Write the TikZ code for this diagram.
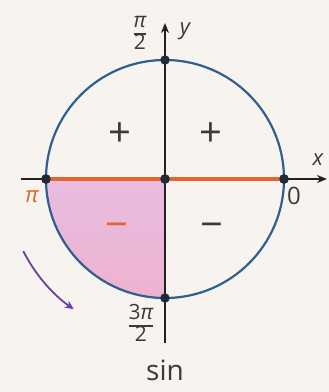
\documentclass[tikz,border=0pt]{standalone}
\usepackage{fontspec}
\setmainfont{Open Sans}
\usetikzlibrary{arrows.meta}
\definecolor{bg}{HTML}{F7F4EF}
\definecolor{circ}{HTML}{2F5F90}
\definecolor{axis}{HTML}{222222}
\definecolor{org}{HTML}{E4632E}
\definecolor{pinkf}{HTML}{EEB2D0}
\definecolor{pinkl}{HTML}{E9BCE0}
\definecolor{dotc}{HTML}{1E2B38}
\definecolor{txt}{HTML}{3A3A3A}
\definecolor{purp}{HTML}{6B3FA6}
\tikzset{
  axisline/.style={draw=axis, line width=2.2pt, -{Stealth[length=10pt,width=8pt]}},
  pt/.style={circle, fill=dotc, inner sep=0pt, minimum size=9.5pt},
  lbl/.style={text=txt, inner sep=0pt, font=\fontsize{22}{24}\selectfont},
  sgn/.style={text=txt, inner sep=0pt, font=\fontsize{40}{42}\selectfont},
  frc/.style={text=txt, inner sep=0pt},
}
\newcommand{\myfrac}[2]{{\fontsize{21}{21}\selectfont\setlength{\tabcolsep}{0pt}\renewcommand{\arraystretch}{0.9}\setlength{\arrayrulewidth}{1.3pt}\begin{tabular}{c}#1\\\hline #2\end{tabular}}}
\begin{document}
\begin{tikzpicture}[x=1pt,y=-1pt]
\fill[bg] (0,0) rectangle (329,392);
\useasboundingbox (0,0) rectangle (329,392);
\coordinate (O) at (165,179);
\coordinate (xs) at (21,179);
\coordinate (xe) at (327,179);
\coordinate (ys) at (165,343);
\coordinate (ye) at (165,23);
% pink third quadrant
\shade[top color=pinkl, bottom color=pinkf] (O) -- (46,179) arc[start angle=180, end angle=90, radius=119] -- cycle;
% circle
\draw[circ, line width=2.2pt] (O) circle[radius=119];
% axes
\draw[axisline] (xs) -- (xe);
\draw[axisline] (ys) -- (ye);
% points
\node[pt] (P0) at (284,179) {};
\node[pt] (Ppi) at (46,179) {};
\node[pt] (Pc) at (165,179) {};
\node[pt] (Ptop) at (165,60) {};
\node[pt] (Pbot) at (165,298) {};
% orange segment
\draw[org, line width=3.4pt] (Ppi.center) -- (P0.center);
\node[pt] at (284,179) {};
\node[pt] at (46,179) {};
\node[pt] at (165,179) {};
% labels
\node[frc] (lhalf) at (140,35) {\myfrac{\itshape π}{2}};
\node[lbl, font=\fontsize{22}{24}\selectfont\itshape] (ly) at (185,31) {y};
\node[lbl, font=\fontsize{22}{24}\selectfont\itshape] (lx) at (318,160) {x};
\node[lbl, text=org, font=\fontsize{22}{24}\selectfont\itshape] (lpi) at (32,197) {π};
\node[lbl, font=\fontsize{24}{26}\selectfont] (l0) at (294,196) {0};
\node[frc] (l3half) at (141,326) {\myfrac{3{\itshape π}}{2}};
\node[lbl, font=\fontsize{28}{30}\selectfont] (lsin) at (165,370) {sin};
\node[sgn] (s1) at (120,135) {+};
\node[sgn] (s2) at (211,135) {+};
\node[sgn, text=org] (s3) at (117,231) {−};
\node[sgn] (s4) at (212,231) {−};
% purple arrow
\draw[purp, line width=1.8pt, -{Stealth[length=9pt,width=8pt]}] (O) ++(153:159) arc[start angle=153, end angle=125, radius=159];
\end{tikzpicture}
\end{document}
